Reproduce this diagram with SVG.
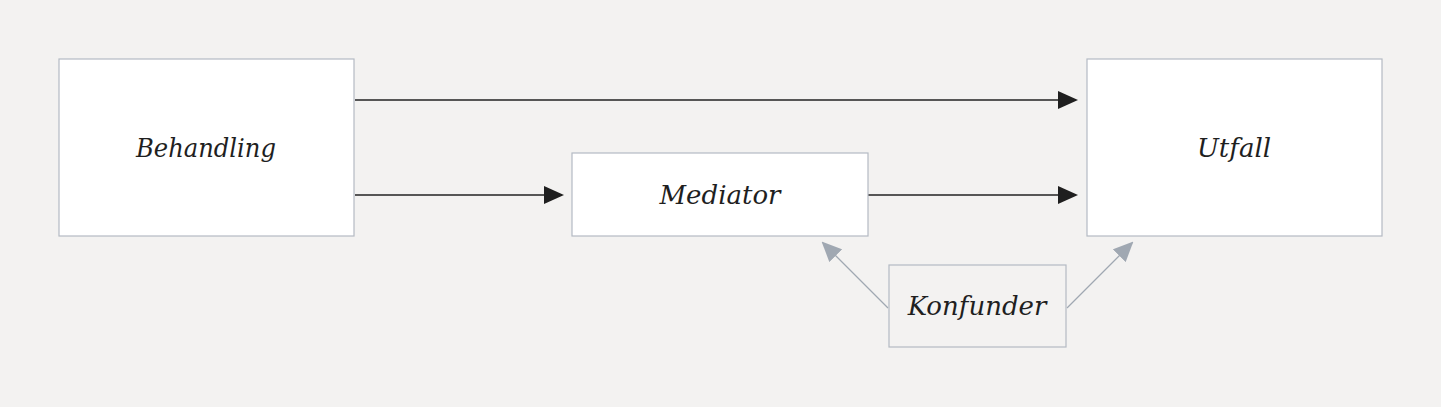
<svg xmlns="http://www.w3.org/2000/svg" width="1441" height="407" viewBox="0 0 1441 407">
<style>
.n{fill:#fff;stroke:#b4bac3;stroke-width:1.2}
.t{font-family:"DejaVu Serif","Liberation Serif",serif;font-style:italic;font-size:26px;fill:#1f1f1f;text-anchor:middle;dominant-baseline:central}
.e{stroke:#222;stroke-width:1.3;fill:none}
.g{stroke:#a0a8b2;stroke-width:1.3;fill:none}
</style>
<defs>
<marker id="a" markerWidth="20" markerHeight="18" refX="18" refY="9" orient="auto" markerUnits="userSpaceOnUse"><path d="M0,0L20,9L0,18Z" fill="#1f1f1f"/></marker>
<marker id="b" markerWidth="20" markerHeight="18" refX="18" refY="9" orient="auto" markerUnits="userSpaceOnUse"><path d="M0,0L20,9L0,18Z" fill="#a0a8b2"/></marker>
</defs>
<rect width="1441" height="407" fill="#f3f2f1"/>
<g id="connectors">
<line class="e" x1="355" y1="100" x2="1076" y2="100" marker-end="url(#a)"/>
<line class="e" x1="355" y1="195" x2="562" y2="195" marker-end="url(#a)"/>
<line class="e" x1="868" y1="195" x2="1076" y2="195" marker-end="url(#a)"/>
<line class="g" x1="888" y1="308" x2="823" y2="243" marker-end="url(#b)"/>
<line class="g" x1="1067" y1="308" x2="1132" y2="243" marker-end="url(#b)"/>
</g>
<g id="behandling"><rect class="n" x="59" y="59" width="295" height="177"/><text class="t" x="206" y="148" textLength="140" lengthAdjust="spacingAndGlyphs">Behandling</text></g>
<g id="mediator"><rect class="n" x="572" y="153" width="296" height="83"/><text class="t" x="720" y="195">Mediator</text></g>
<g id="utfall"><rect class="n" x="1087" y="59" width="295" height="177"/><text class="t" x="1234" y="148">Utfall</text></g>
<g id="konfunder"><rect class="n" style="fill:#f3f2f1" x="889" y="265" width="177" height="82"/><text class="t" x="977" y="306">Konfunder</text></g>
</svg>
